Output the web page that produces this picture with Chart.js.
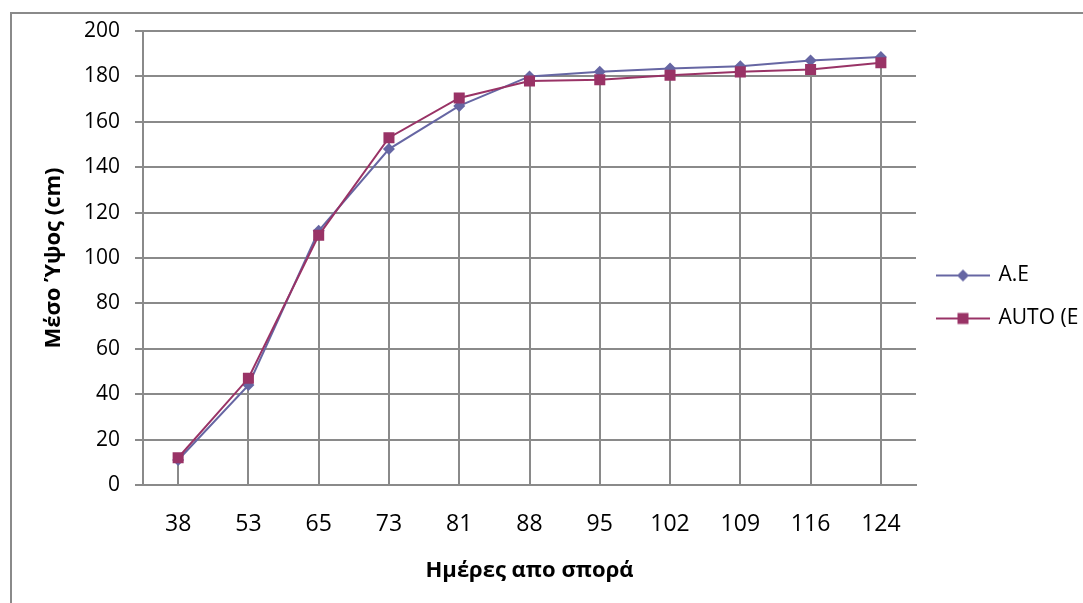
<!DOCTYPE html>
<html><head><meta charset="utf-8">
<script src="https://cdn.jsdelivr.net/npm/chart.js@4"></script>
<style>html,body{margin:0;padding:0;background:#fff;overflow:hidden}#wrap{width:1083px;height:603px}</style>
</head><body><div id="wrap"><canvas id="c" width="1083" height="603"></canvas></div>
<script>
const days = ['38','53','65','73','81','88','95','102','109','116','124'];
const seriesAE = [11, 44, 112, 148, 167, 180, 182, 183.5, 184.5, 187, 188.5];
const seriesAUTO = [12, 47, 110, 153, 170.5, 178, 178.5, 180.5, 182, 183, 186];
const seriesNames = ['A.E', 'AUTO (E'];
const yTitle = 'Μέσο Ύψος (cm)';
const xTitle = 'Ημέρες απο σπορά';

const GRID = '#8a8a8a';
const C_AE = '#6666a3';
const C_AUTO = '#993366';
const FONT = 'Open Sans';

function legendImg(kind, color) {
  const c = document.createElement('canvas');
  c.width = 54; c.height = 16;
  const g = c.getContext('2d');
  g.strokeStyle = color; g.lineWidth = 2;
  g.beginPath(); g.moveTo(0, 8); g.lineTo(54, 8); g.stroke();
  g.fillStyle = color;
  if (kind === 'diamond') {
    g.beginPath(); g.moveTo(27, 2); g.lineTo(33, 8); g.lineTo(27, 14); g.lineTo(21, 8); g.closePath(); g.fill();
  } else {
    g.fillRect(21.5, 2.5, 11, 11);
  }
  return c;
}
const legendImgs = [legendImg('diamond', C_AE), legendImg('square', C_AUTO)];

const frame = {
  id: 'frame',
  beforeDraw(chart) {
    const ctx = chart.ctx;
    ctx.save();
    ctx.fillStyle = '#fff';
    ctx.fillRect(0, 0, chart.width, chart.height);
    ctx.strokeStyle = GRID; ctx.lineWidth = 2;
    ctx.strokeRect(11, 13, chart.width + 50, chart.height + 50);
    ctx.restore();
  }
};
const dropLines = {
  id: 'dropLines',
  beforeDatasetsDraw(chart) {
    const {ctx, scales: {x, y}} = chart;
    ctx.save();
    ctx.strokeStyle = GRID; ctx.lineWidth = 2;
    days.forEach((d, i) => {
      const px = Math.round(x.getPixelForValue(i));
      const top = y.getPixelForValue(Math.max(seriesAE[i], seriesAUTO[i]));
      ctx.beginPath(); ctx.moveTo(px, y.getPixelForValue(0)); ctx.lineTo(px, top); ctx.stroke();
    });
    ctx.restore();
  }
};

new Chart(document.getElementById('c'), {
  type: 'line',
  data: {
    labels: days,
    datasets: [
      { label: seriesNames[0], data: seriesAE, borderColor: C_AE, backgroundColor: C_AE, borderWidth: 2,
        pointStyle: 'rectRot', pointRadius: 6, pointHoverRadius: 6, pointBorderWidth: 0, order: 1, tension: 0 },
      { label: seriesNames[1], data: seriesAUTO, borderColor: C_AUTO, backgroundColor: C_AUTO, borderWidth: 2,
        pointStyle: 'rect', pointRadius: 7.8, pointHoverRadius: 7.8, pointBorderWidth: 0, order: 0, tension: 0 }
    ]
  },
  options: {
    responsive: false,
    animation: false,
    devicePixelRatio: 1,
    layout: { padding: { top: 31, left: 0, right: 0, bottom: 40 } },
    plugins: {
      tooltip: { enabled: false },
      legend: {
        position: 'right',
        maxWidth: 167,
        labels: {
          usePointStyle: true,
          pointStyleWidth: 50,
          padding: 22,
          color: '#000',
          font: { family: FONT, size: 21 },
          sort: (a, b) => a.datasetIndex - b.datasetIndex,
          generateLabels(chart) {
            return Chart.defaults.plugins.legend.labels.generateLabels(chart)
              .map(l => Object.assign(l, { pointStyle: legendImgs[l.datasetIndex] }));
          }
        }
      }
    },
    scales: {
      x: {
        offset: true,
        grid: { display: false, drawTicks: false },
        border: { display: true, color: GRID, width: 2 },
        ticks: { color: '#000', font: { family: FONT, size: 23 }, padding: 26, maxRotation: 0, autoSkip: false },
        title: { display: true, text: xTitle, color: '#000', font: { family: FONT, size: 22, weight: 'bold' }, padding: { top: 0, bottom: -21 } },
        afterFit(s) { s.height = 78; }
      },
      y: {
        min: 0, max: 200,
        ticks: { stepSize: 20, color: '#000', font: { family: FONT, size: 21 }, padding: 15 },
        grid: { color: GRID, lineWidth: 2, drawTicks: true, tickLength: 8, tickColor: GRID },
        border: { display: true, color: GRID, width: 2 },
        title: { display: true, text: yTitle, color: '#000', font: { family: FONT, size: 22, weight: 'bold' }, padding: { top: 41, bottom: 0 } },
        afterFit(s) { s.width = 143; }
      }
    }
  },
  plugins: [frame, dropLines]
});
</script></body></html>
